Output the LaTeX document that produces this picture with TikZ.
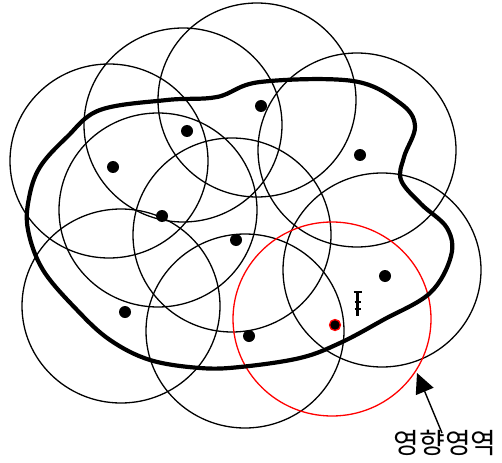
\documentclass[tikz,border=0pt]{standalone}
\usepackage{fontspec}
\newfontfamily\krfont{Noto Sans CJK KR}
\usetikzlibrary{arrows.meta}
\begin{document}
\begin{tikzpicture}[
        x=1pt, y=-1pt,
        coverage/.style={draw=black, line width=1.3pt},
        sensor/.style={circle, fill=black, inner sep=0pt, minimum size=12pt},
        every node/.style={
            font=\krfont
        }
    ]
        \useasboundingbox (0,0) rectangle (502,462);

        % coverage circles
        \draw[coverage] (109,161) ellipse (99 and 97);
        \draw[coverage] (183,125) ellipse (99 and 97);
        \draw[coverage] (257,100) ellipse (99 and 97);
        \draw[coverage] (357,150) ellipse (99 and 97);
        \draw[coverage] (158,210) ellipse (99 and 97);
        \draw[coverage] (232,235) ellipse (99 and 97);
        \draw[coverage] (382,270) ellipse (99 and 97);
        \draw[coverage] (121,306) ellipse (99 and 97);
        \draw[coverage] (245,331) ellipse (99 and 97);
        \draw[coverage, draw=red] (332,319) ellipse (99 and 97);

        % region boundary
        \draw[line width=4.2pt, line join=round] plot[smooth cycle, tension=0.6] coordinates {
            (260,82) (353,81) (400,103) (415,126) (404,157) (401,180)
            (421,204) (447,228) (451,256) (430,293) (383,320) (340,343)
            (300,358) (240,367) (200,368) (150,360) (110,340) (77,310)
            (43,270) (28,230) (29,198) (40,167) (67,137) (100,110)
            (167,100) (217,97)};

        % sensors
        \node[sensor] (s1) at (113,167) {};
        \node[sensor] (s2) at (187,131) {};
        \node[sensor] (s3) at (261,106) {};
        \node[sensor] (s4) at (360,155) {};
        \node[sensor] (s5) at (162,216) {};
        \node[sensor] (s6) at (236,240) {};
        \node[sensor] (s7) at (385,276) {};
        \node[sensor] (s8) at (125,312) {};
        \node[sensor] (s9) at (249,336) {};
        \node[sensor, draw=red, line width=1.3pt, minimum size=11pt] (s10) at (335,325) {};

        % tower
        \draw[line width=2.6pt] (357.5,292) -- (357.5,316);
        \draw[line width=1.6pt] (353.5,292) -- (361.5,292);
        \draw[line width=1.4pt] (354.5,302) -- (360.5,302);
        \draw[line width=1.4pt] (354.5,309) -- (360.5,309);

        % label
        \node[font=\krfont\fontsize{28}{32}\selectfont, inner sep=0pt] (lbl) at (445,443) {영향영역};
        \coordinate (tail) at (442,433);
        \coordinate (tip) at (417,373);
        \draw[line width=1.4pt, -{Triangle[length=20pt, width=19pt]}] (tail) -- (tip);
    \end{tikzpicture}
\end{document}
